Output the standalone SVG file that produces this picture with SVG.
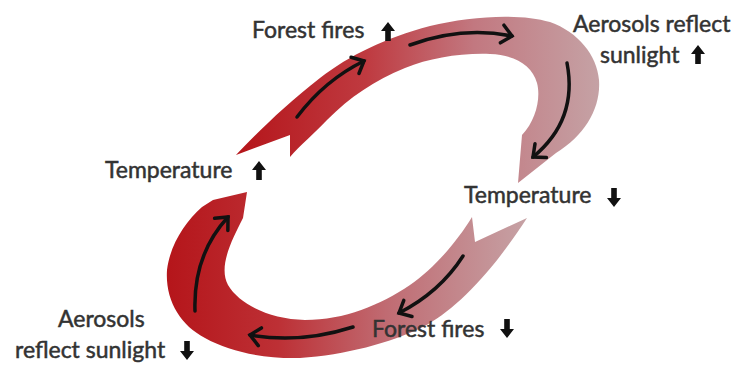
<svg xmlns="http://www.w3.org/2000/svg" width="739" height="365" viewBox="0 0 739 365">
  <style>
    .lbl { font-family: "Lato", "Liberation Sans", sans-serif; font-size: 23px; fill: #333; stroke: #333; stroke-width: 0.5; }
    .band { stroke: none; }
    .flow { fill: none; stroke: #111; stroke-width: 3.5; stroke-linecap: round; marker-end: url(#chev); }
    .sym { fill: #111; }
  </style>
  <defs>
    <linearGradient id="gU" gradientUnits="userSpaceOnUse" x1="240" y1="0" x2="600" y2="0">
      <stop offset="0" stop-color="#b5161b"/>
      <stop offset="0.35" stop-color="#bf3a40"/>
      <stop offset="0.65" stop-color="#c27880"/>
      <stop offset="1" stop-color="#c5a2a5"/>
    </linearGradient>
    <linearGradient id="gL" gradientUnits="userSpaceOnUse" x1="170" y1="0" x2="530" y2="0">
      <stop offset="0" stop-color="#b5161b"/>
      <stop offset="0.3" stop-color="#bd3035"/>
      <stop offset="0.6" stop-color="#c06b72"/>
      <stop offset="1" stop-color="#c6a3a6"/>
    </linearGradient>
    <marker id="chev" markerUnits="userSpaceOnUse" markerWidth="22" markerHeight="22" refX="13" refY="11" orient="auto" overflow="visible">
      <path d="M3,2 L13,11 L3,20" fill="none" stroke="#111" stroke-width="3.5" stroke-linecap="round" stroke-linejoin="miter"/>
    </marker>
    <path id="up" d="M0,0 L7,9 L2.8,9 L2.8,19 L-2.8,19 L-2.8,9 L-7,9 Z"/>
    <path id="down" d="M0,19 L7,10 L2.8,10 L2.8,0 L-2.8,0 L-2.8,10 L-7,10 Z"/>
  </defs>

  <g id="connectors">
    <path id="band-upper" class="band" fill="url(#gU)" d="M236,155 C255,135 285,105 320,78 C350,55 385,38 430,26 C470,16 520,13 550,22 C578,32 597,55 599,80 C601,108 585,135 556,153 L518,183 L522,135 C536,120 541,98 537,83 C532,65 515,55 490,54 C460,53 430,58 405,68 C375,80 350,97 327,120 C315,133 300,145 290,157 L290,135 Z"/>
    <path id="band-lower" class="band" fill="url(#gL)" d="M472,217 C458,240 435,268 410,285 C380,305 345,320 305,320 C270,319 240,305 228,285 C218,266 232,240 243,218 L247,192 L213,200 L202,207 C185,222 170,245 167,270 C165,300 180,325 205,338 C230,352 265,359 300,358 C345,355 390,343 423,327 C455,310 490,275 527,218 L475,242 Z"/>
    <path class="flow" d="M297,117 Q325,80 364,61"/>
    <path class="flow" d="M410,45 Q462,26 512,36"/>
    <path class="flow" d="M567,63 Q578,120 533,157"/>
    <path class="flow" d="M463,256 Q440,292 399,313"/>
    <path class="flow" d="M353,327 Q300,344 250,335"/>
    <path class="flow" d="M195,311 Q193,255 228,217"/>
  </g>

  <g id="forest-fires-up">
    <text class="lbl" x="252" y="38">Forest fires</text>
    <use href="#up" class="sym" x="388" y="22"/>
  </g>
  <g id="aerosols-up">
    <text class="lbl" x="573" y="32">Aerosols reflect</text>
    <text class="lbl" x="600" y="63">sunlight</text>
    <use href="#up" class="sym" x="698" y="45"/>
  </g>
  <g id="temperature-up">
    <text class="lbl" x="105" y="178">Temperature</text>
    <use href="#up" class="sym" x="259" y="161"/>
  </g>
  <g id="temperature-down">
    <text class="lbl" x="464" y="203">Temperature</text>
    <use href="#down" class="sym" x="614" y="188"/>
  </g>
  <g id="forest-fires-down">
    <text class="lbl" x="372" y="337">Forest fires</text>
    <use href="#down" class="sym" x="507" y="319"/>
  </g>
  <g id="aerosols-down">
    <text class="lbl" x="58" y="327">Aerosols</text>
    <text class="lbl" x="15" y="358">reflect sunlight</text>
    <use href="#down" class="sym" x="187" y="341"/>
  </g>
</svg>
